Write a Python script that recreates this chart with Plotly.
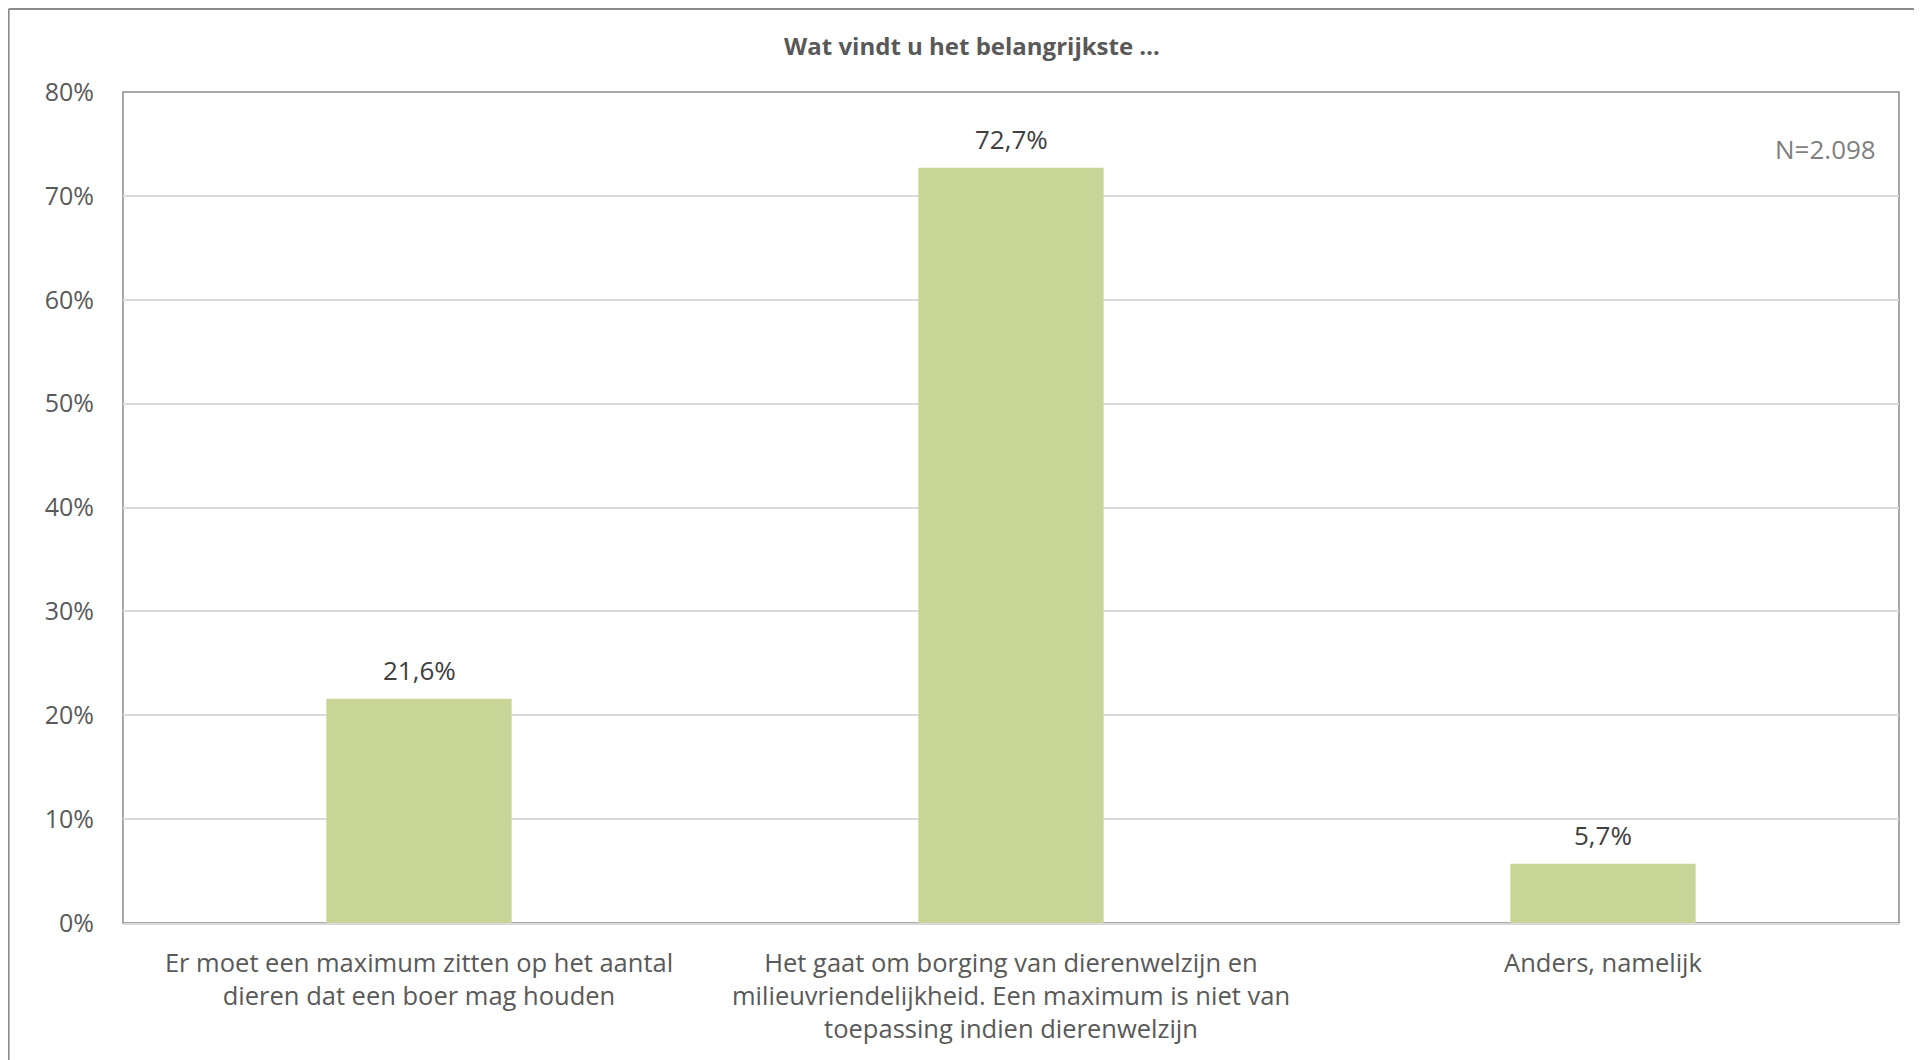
import plotly.graph_objects as go

# categories and values (percent)
categories = [
    "Er moet een maximum zitten op het aantal<br>dieren dat een boer mag houden",
    "Het gaat om borging van dierenwelzijn en<br>milieuvriendelijkheid. Een maximum is niet van<br>toepassing indien dierenwelzijn",
    "Anders, namelijk",
]
percentages = [21.6, 72.7, 5.7]
y_ticks = [0, 10, 20, 30, 40, 50, 60, 70, 80]
y_tick_labels = ["0%", "10%", "20%", "30%", "40%", "50%", "60%", "70%", "80%"]
n_label = "N=2.098"
title_text = "Wat vindt u het belangrijkste \u2026"

FONT = "Open Sans, Calibri, sans-serif"
BAR_COLOR = "#C9D597"

fig = go.Figure()
fig.add_trace(go.Bar(
    x=categories,
    y=percentages,
    marker=dict(color=BAR_COLOR, line=dict(width=0)),
    hoverinfo="skip",
))

# value labels above bars
annotations = []
for cat, val in zip(categories, percentages):
    annotations.append(dict(
        x=cat, y=val, xref="x", yref="y", yshift=29,
        text=f"{val:.1f}%".replace(".", ","),
        showarrow=False, xanchor="center", yanchor="middle",
        font=dict(family=FONT, size=26, color="#404040"),
    ))
annotations.append(dict(text=n_label, xref="paper", yref="paper", x=0.988, y=0.931,
                        xanchor="right", yanchor="middle", showarrow=False,
                        font=dict(family=FONT, size=26, color="#7f7f7f")))

fig.update_xaxes(
    showline=True, linecolor="#d9d9d9", linewidth=2,
    tickfont=dict(family=FONT, size=25.5, color="#595959"),
    ticks="", ticklabelstandoff=16,
)
fig.update_yaxes(
    range=[0, 80], tickvals=y_ticks, ticktext=y_tick_labels,
    showgrid=True, gridcolor="#d9d9d9", gridwidth=1.5,
    showline=False, zeroline=False,
    tickfont=dict(family=FONT, size=25, color="#595959"),
    ticklabelstandoff=28,
)

shapes = [
    # plot area border
    dict(type="rect", xref="paper", yref="paper", x0=0, x1=1, y0=0, y1=1,
         line=dict(color="#8c8c8c", width=1.5), layer="below"),
    # outer chart border (left and top edges)
    dict(type="line", xref="paper", yref="paper", x0=-0.0644, x1=-0.0644, y0=-0.5, y1=1.0999,
         line=dict(color="#8c8c8c", width=2)),
    dict(type="line", xref="paper", yref="paper", x0=-0.0644, x1=1.5, y0=1.0999, y1=1.0999,
         line=dict(color="#8c8c8c", width=2)),
]

fig.update_layout(
    width=1922, height=1060,
    margin=dict(l=115, r=31, t=84, b=145),
    paper_bgcolor="white", plot_bgcolor="white",
    bargap=0.687,
    showlegend=False,
    shapes=shapes,
    annotations=annotations,
    title=dict(text="<b>" + title_text + "</b>", x=964 / 1922, xref="container", xanchor="center",
               y=1 - 38.6 / 1060, yref="container", yanchor="middle",
               font=dict(family=FONT, size=24, color="#595959")),
)

fig.write_html("out.html")
